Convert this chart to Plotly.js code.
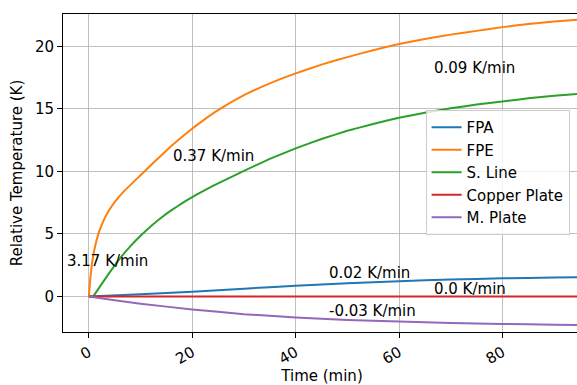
<!DOCTYPE html>
<html>
<head>
<meta charset="utf-8">
<script src="https://cdn.plot.ly/plotly-3.0.1.min.js"></script>
<style>html,body{margin:0;padding:0;overflow:hidden;background:#fff;width:577px;height:385px}</style>
</head>
<body>
<div id="chart" style="width:590px;height:385px"></div>
<script>
const seriesNames = ["FPA", "FPE", "S. Line", "Copper Plate", "M. Plate"];
const seriesColors = ["#1f77b4", "#ff7f0e", "#2ca02c", "#d62728", "#9467bd"];

const tFPA = [0, 10, 20, 30, 40, 50, 60, 70, 80, 90, 96];
const vFPA = [0, 0.17, 0.38, 0.62, 0.85, 1.05, 1.22, 1.35, 1.45, 1.51, 1.54];

const tFPE = [0, 0.3, 0.6, 1, 1.5, 2, 3, 4, 5, 7, 10, 13, 16, 19, 22, 25, 30, 35, 40, 45, 50, 55, 60, 65, 70, 75, 80, 85, 90, 96];
const vFPE = [0, 1.5, 2.6, 3.6, 4.5, 5.2, 6.2, 6.95, 7.55, 8.5, 9.7, 10.9, 12.05, 13.1, 14.05, 14.9, 16.1, 17.05, 17.85, 18.55, 19.15, 19.7, 20.2, 20.6, 20.95, 21.25, 21.55, 21.8, 22.0, 22.2];

const tSLine = [0, 0.8, 2, 3, 4, 5.65, 8, 10, 12, 14, 16, 18, 20, 22, 24, 26, 28, 30, 35, 40, 45, 50, 55, 60, 65, 70, 75, 80, 85, 90, 96];
const vSLine = [0, 0, 0.7, 1.3, 1.9, 2.85, 4.0, 4.85, 5.62, 6.3, 6.9, 7.45, 7.95, 8.4, 8.85, 9.25, 9.65, 10.05, 11.0, 11.85, 12.6, 13.25, 13.8, 14.3, 14.7, 15.05, 15.35, 15.6, 15.85, 16.05, 16.25];

const tCopper = [0, 96];
const vCopper = [0, 0];

const tMPlate = [0, 5, 10, 20, 30, 40, 50, 60, 70, 80, 90, 96];
const vMPlate = [0, -0.3, -0.58, -1.05, -1.42, -1.68, -1.88, -2.0, -2.12, -2.2, -2.27, -2.31];

const rateLabels = ["3.17 K/min", "0.37 K/min", "0.09 K/min", "0.02 K/min", "0.0 K/min", "-0.03 K/min"];
const rateX = [-4.6, 15.9, 66.3, 46.1, 66.3, 46.1];
const rateY = [2.8, 11.2, 18.3, 1.84, 0.56, -1.2];

const xTicks = [0, 20, 40, 60, 80];
const yTicks = [0, 5, 10, 15, 20];

const tArrs = [tFPA, tFPE, tSLine, tCopper, tMPlate];
const vArrs = [vFPA, vFPE, vSLine, vCopper, vMPlate];

const FS = 15;

const traces = seriesNames.map((n, i) => ({
  x: tArrs[i], y: vArrs[i], name: n, type: "scatter", mode: "lines",
  line: {color: seriesColors[i], width: 2, shape: "spline", smoothing: 0.3}
}));

const annotations = rateLabels.map((t, i) => ({
  x: rateX[i], y: rateY[i], xref: "x", yref: "y", text: t, showarrow: false,
  xanchor: "left", yanchor: "middle", font: {size: FS, color: "#000"}
}));

const axisCommon = {
  showgrid: true, gridcolor: "#b0b0b0", gridwidth: 0.8,
  zeroline: false, showline: true, linecolor: "#000", linewidth: 1, mirror: true,
  ticks: "outside", ticklen: 5, tickcolor: "#000", tickwidth: 1,
  tickfont: {size: FS, color: "#000"}
};

const layout = {
  width: 590, height: 385,
  margin: {l: 63, r: 9, t: 14, b: 53},
  paper_bgcolor: "#fff", plot_bgcolor: "#fff",
  font: {family: "DejaVu Sans", size: FS, color: "#000"},
  xaxis: Object.assign({}, axisCommon, {
    range: [-5, 95.2], tickvals: xTicks, tickangle: -30,
    title: {text: "Time (min)", font: {size: FS}, standoff: 3}
  }),
  yaxis: Object.assign({}, axisCommon, {
    range: [-2.85, 22.6], tickvals: yTicks,
    title: {text: "Relative Temperature (K)", font: {size: FS}, standoff: 8}
  }),
  showlegend: true,
  legend: {
    x: 0.70, y: 0.698, xanchor: "left", yanchor: "top",
    bgcolor: "rgba(255,255,255,0.8)", bordercolor: "#cccccc", borderwidth: 1,
    font: {size: FS, color: "#000"}
  },
  annotations: annotations
};

Plotly.newPlot("chart", traces, layout, {staticPlot: true, displayModeBar: false});
</script>
</body>
</html>
